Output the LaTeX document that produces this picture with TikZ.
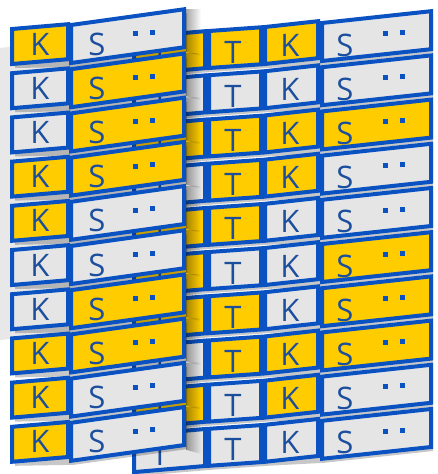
\documentclass[tikz,border=0pt]{standalone}
\usepackage{fontspec}
\setmainfont{Open Sans}
\usetikzlibrary{fadings}
\definecolor{cellblue}{HTML}{0A52C2}
\definecolor{letterblue}{HTML}{1C4E9E}
\definecolor{cy}{HTML}{FFCC00}
\definecolor{cg}{HTML}{E5E5E5}
\definecolor{panel}{HTML}{E8E8E8}
\begin{document}
\begin{tikzpicture}[x=1pt, y=-1pt, line join=miter,
    cell/.style={draw=cellblue, line width=4pt},
    letter/.style={text=letterblue, font=\fontsize{31}{31}\selectfont, inner sep=0pt},
    castshadow/.style={fill=black, opacity=.22}]
    \useasboundingbox (0,0) rectangle (437,474);
    \clip (0,0) rectangle (437,474);

    % 背景パネル
    \fill[panel] (0,48) -- (150,30) -- (150,325) -- (0,340) -- cycle;

    % 奥の列 (T T K S)
    \foreach \r/\hc/\tc/\kc/\sc in {0/cy/cy/cy/cg, 1/cg/cg/cg/cg, 2/cy/cy/cy/cy,
        3/cg/cy/cy/cg, 4/cy/cy/cg/cg, 5/cy/cg/cg/cy, 6/cy/cy/cg/cy,
        7/cg/cy/cy/cy, 8/cy/cg/cy/cg, 9/cg/cg/cg/cg} {
      \begin{scope}[shift={(0,\r*44.2)}]
        \fill[castshadow, shift={(2,4)}] (134,37.3) -- (205,31.2) -- (261,27.3) -- (318,21.2)
          -- (431,11.2) -- (431,49.2) -- (322,61) -- (265,64) -- (209,68) -- (134,74.3) -- cycle;
        \draw[cell, fill=\hc] (134,37.3) -- (205,31.2) -- (205,68.2) -- (134,74.3) -- cycle;
        \node[letter] (bh\r) at (160,57) {T};
        \draw[cell, fill=\tc] (209,31) -- (261,27.3) -- (261,64.3) -- (209,68) -- cycle;
        \node[letter] (bt\r) at (233,52) {T};
        \draw[cell, fill=\kc] (265,27) -- (318,21.2) -- (318,58.2) -- (265,64) -- cycle;
        \node[letter] (bk\r) at (290,45) {K};
        \draw[cell, fill=\sc] (322,23) -- (431,11.2) -- (431,49.2) -- (322,61) -- cycle;
        \node[letter] (bs\r) at (345,45) {S};
        \fill[cellblue] (382.5,30.8) rectangle (387.5,35.8);
        \fill[cellblue] (399.5,29.8) rectangle (404.5,34.8);
      \end{scope}
    }

    % 手前の列 (K S)
    \foreach \r/\kc/\sc in {0/cy/cg, 1/cg/cy, 2/cg/cy, 3/cy/cy, 4/cy/cg,
        5/cg/cg, 6/cg/cy, 7/cy/cy, 8/cy/cg, 9/cy/cg} {
      \begin{scope}[shift={(0,\r*44.2)}]
        \fill[castshadow, shift={(3,4)}] (12,29) -- (71,25) -- (184,9.3) -- (184,47.3)
          -- (71,63) -- (12,64) -- cycle;
        \fill[black, opacity=.35, path fading=east] (186,9) -- (201,9) -- (201,56) -- (186,52) -- cycle;
        \draw[cell, fill=\kc] (12,29) -- (68,24.2) -- (68,59.2) -- (12,64) -- cycle;
        \node[letter] (fk\r) at (40,44) {K};
        \draw[cell, fill=\sc] (71,25) -- (184,9.3) -- (184,47.3) -- (71,63) -- cycle;
        \node[letter] (fs\r) at (97,44) {S};
        \fill[cellblue] (132.5,31) rectangle (137.5,36);
        \fill[cellblue] (149.5,29.5) rectangle (154.5,34.5);
      \end{scope}
    }
\end{tikzpicture}
\end{document}
